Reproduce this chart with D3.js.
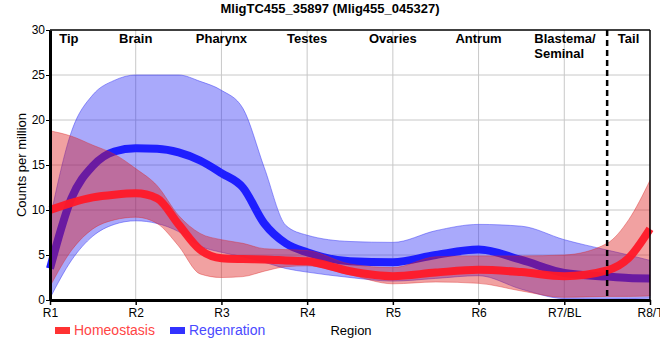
<!DOCTYPE html>
<html>
<head>
<meta charset="utf-8">
<script src="https://cdn.jsdelivr.net/npm/d3@7"></script>
<style>
  html, body { margin: 0; padding: 0; background: #fff; }
  svg { display: block; font-family: Arial, "Liberation Sans", sans-serif; }
</style>
</head>
<body>
<svg id="chart" width="660" height="360"></svg>
<script>
// ---- data ----
const title = "MligTC455_35897 (Mlig455_045327)";
const regionTicks = ["R1", "R2", "R3", "R4", "R5", "R6", "R7/BL", "R8/T"];
const yTicks = [0, 5, 10, 15, 20, 25, 30];
const tissueLabels = ["Tip", "Brain", "Pharynx", "Testes", "Ovaries", "Antrum", "Blastema/\nSeminal", "Tail"];
const tissueAt = [1.22, 2, 3, 4, 5, 6, 7, 7.75];
const tailBoundary = 7.5;

const positions   = [1, 1.25, 1.5, 1.75, 2, 2.25, 2.5, 2.75, 3, 3.25, 3.5, 3.75, 4, 4.5, 5, 5.5, 6, 6.5, 7, 7.5, 7.75, 8];
const homeoMean   = [10.0, 10.8, 11.4, 11.7, 11.85, 11.3, 8.4, 5.6, 4.65, 4.55, 4.5, 4.4, 4.3, 3.2, 2.65, 3.05, 3.35, 3.1, 2.65, 3.3, 4.65, 7.9];
const homeoUpper  = [18.8, 18.2, 17.2, 16.2, 14.6, 12.7, 9.4, 7.4, 6.7, 6.3, 5.7, 5.6, 5.5, 4.0, 3.6, 4.8, 4.9, 4.9, 5.0, 6.3, 8.9, 13.3];
const homeoLower  = [1.5, 5.5, 7.9, 8.9, 9.2, 8.5, 6.0, 2.9, 2.5, 2.6, 3.2, 3.7, 3.8, 2.8, 1.8, 2.0, 1.85, 1.0, 0.3, 0.4, 0.4, 0.45];
const regenMean   = [3.5, 11.3, 14.9, 16.5, 16.85, 16.8, 16.4, 15.5, 14.1, 12.5, 8.5, 6.3, 5.3, 4.3, 4.2, 5.0, 5.6, 4.45, 3.0, 2.6, 2.45, 2.4];
const regenUpper  = [9.0, 18.7, 22.8, 24.4, 25.0, 25.0, 25.0, 24.3, 23.3, 21.3, 14.7, 8.3, 7.2, 6.5, 6.4, 7.7, 8.4, 8.2, 6.7, 5.55, 5.0, 4.4];
const regenLower  = [0.2, 4.4, 7.1, 8.4, 8.8, 8.5, 7.6, 6.0, 5.3, 4.8, 4.2, 3.5, 3.1, 2.5, 2.1, 2.4, 2.7, 1.2, 0.15, 0.1, 0.15, 0.2];

const seriesNames = ["Homeostasis", "Regenration"];

// ---- layout ----
const svg = d3.select("#chart");
const margin = { left: 50, right: 10, top: 30, bottom: 60 };
const W = 660, H = 360;
const x = d3.scaleLinear().domain([1, 8]).range([margin.left, W - margin.right]);
const y = d3.scaleLinear().domain([0, 30]).range([H - margin.bottom, margin.top]);

// grid
const grid = svg.append("g");
grid.selectAll("line.h").data(yTicks.filter(v => v > 0 && v < 30)).join("line")
  .attr("x1", x(1)).attr("x2", x(8)).attr("y1", d => y(d)).attr("y2", d => y(d))
  .attr("stroke", "#c8c8c8").attr("stroke-width", 1);
grid.selectAll("line.v").data(d3.range(2, 8)).join("line")
  .attr("y1", y(0)).attr("y2", y(30)).attr("x1", d => x(d)).attr("x2", d => x(d))
  .attr("stroke", "#c8c8c8").attr("stroke-width", 1);

const pts = (vals) => positions.map((p, i) => [p, vals[i]]);
const area = (lo, hi) => d3.area()
  .x((d, i) => x(positions[i]))
  .y0((d, i) => y(lo[i]))
  .y1((d, i) => y(hi[i]))
  .curve(d3.curveMonotoneX)(positions);
const line = d3.line().x(d => x(d[0])).y(d => y(d[1])).curve(d3.curveMonotoneX);

// regeneration band + line
svg.append("path").attr("d", area(regenLower, regenUpper))
  .attr("fill", "rgb(40,40,245)").attr("fill-opacity", 0.4)
  .attr("stroke", "rgb(60,60,245)").attr("stroke-opacity", 0.5).attr("stroke-width", 1);
svg.append("path").attr("d", line(pts(regenMean)))
  .attr("fill", "none").attr("stroke", "rgb(30,30,255)").attr("stroke-width", 8);

// homeostasis band + line
svg.append("path").attr("d", area(homeoLower, homeoUpper))
  .attr("fill", "rgb(220,20,20)").attr("fill-opacity", 0.4)
  .attr("stroke", "rgb(220,40,40)").attr("stroke-opacity", 0.4).attr("stroke-width", 1);
svg.append("path").attr("d", line(pts(homeoMean)))
  .attr("fill", "none").attr("stroke", "rgb(255,25,40)").attr("stroke-opacity", 0.95).attr("stroke-width", 8);

// dashed boundary
svg.append("line")
  .attr("x1", x(tailBoundary)).attr("x2", x(tailBoundary))
  .attr("y1", y(30)).attr("y2", y(0))
  .attr("stroke", "#000").attr("stroke-width", 2.5).attr("stroke-dasharray", "6,4");

// frame
svg.append("line").attr("x1", x(1)).attr("x2", x(8)).attr("y1", y(30)).attr("y2", y(30))
  .attr("stroke", "#000").attr("stroke-width", 1.5);
svg.append("line").attr("x1", x(8)).attr("x2", x(8)).attr("y1", y(30)).attr("y2", y(0))
  .attr("stroke", "#000").attr("stroke-width", 1.5);

// axes
const xAxis = d3.axisBottom(x).tickValues(d3.range(1, 9)).tickFormat((d, i) => regionTicks[i]).tickSize(5).tickSizeOuter(0);
const gx = svg.append("g").attr("transform", `translate(0,${y(0)})`).call(xAxis);
gx.select(".domain").attr("stroke-width", 3).attr("stroke", "#000");
gx.selectAll(".tick line").attr("stroke-width", 1.5);
gx.selectAll(".tick text").attr("font-size", 12).attr("font-family", "Arial, 'Liberation Sans', sans-serif").attr("fill", "#000").attr("dy", "0.71em").attr("y", 8);

const yAxis = d3.axisLeft(y).tickValues(yTicks).tickSize(4).tickSizeOuter(0);
const gy = svg.append("g").attr("transform", `translate(${x(1)},0)`).call(yAxis);
gy.select(".domain").attr("stroke-width", 3).attr("stroke", "#000");
gy.selectAll(".tick text").attr("font-size", 12).attr("font-family", "Arial, 'Liberation Sans', sans-serif").attr("fill", "#000").attr("x", -5);

// tissue labels
tissueLabels.forEach((t, i) => {
  const lines = t.split("\n");
  const tx = svg.append("text")
    .attr("x", x(tissueAt[i])).attr("y", 43)
    .attr("text-anchor", lines.length > 1 ? "start" : "middle")
    .attr("font-size", 13).attr("font-weight", "bold").attr("fill", "#000");
  if (lines.length > 1) {
    tx.attr("x", x(tissueAt[i]) - 30);
    lines.forEach((l, j) => tx.append("tspan").attr("x", x(tissueAt[i]) - 30).attr("dy", j === 0 ? 0 : 15).text(l));
  } else {
    tx.text(t);
  }
});

// title
svg.append("text").attr("x", 330).attr("y", 13).attr("text-anchor", "middle")
  .attr("font-size", 13).attr("font-weight", "bold").text(title);

// axis titles
svg.append("text").attr("transform", `translate(26,${y(15)}) rotate(-90)`)
  .attr("text-anchor", "middle").attr("font-size", 13).text("Counts per million");
svg.append("text").attr("x", 351).attr("y", 335).attr("text-anchor", "middle")
  .attr("font-size", 13).text("Region");

// legend
const legColors = ["rgb(255,50,50)", "rgb(50,50,255)"];
const legText = ["#ff4545", "#4a4aff"];
const legX = [55, 170];
seriesNames.forEach((n, i) => {
  svg.append("rect").attr("x", legX[i]).attr("y", 327).attr("width", 15).attr("height", 7).attr("fill", legColors[i]);
  svg.append("text").attr("x", legX[i] + 19).attr("y", 335).attr("font-size", 14).attr("fill", legText[i]).text(n);
});
</script>
</body>
</html>
